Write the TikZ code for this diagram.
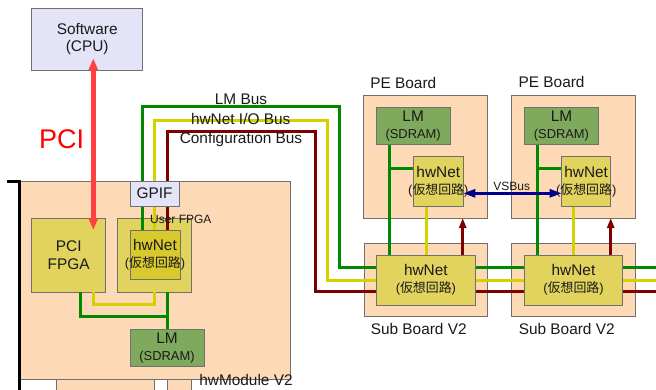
\documentclass[tikz,border=0pt]{standalone}
\usepackage{fontspec}
\setmainfont{Liberation Sans}
\newfontfamily\cjk{Noto Sans CJK JP}
\usetikzlibrary{arrows.meta,fit}

\definecolor{peach}{HTML}{FDD9B6}
\definecolor{lav}{HTML}{E4E4F8}
\definecolor{fpga}{HTML}{E1D35D}
\definecolor{hwin}{HTML}{D8C92E}
\definecolor{lmgreen}{HTML}{7FA95C}
\definecolor{busgreen}{HTML}{008800}
\definecolor{busyellow}{HTML}{D2D200}
\definecolor{busred}{HTML}{800000}
\definecolor{vsblue}{HTML}{000090}
\definecolor{pcired}{HTML}{FF4040}
\definecolor{edgegray}{HTML}{707070}
\definecolor{ink}{HTML}{1A1A1A}

\newcommand\mainsz{\fontsize{15.4}{17.5}\selectfont}
\newcommand\subsz{\fontsize{12.9}{17}\selectfont}
\newcommand\smallsz{\fontsize{12}{14}\selectfont}
\newcommand\pcisz{\fontsize{27}{30}\selectfont}
\newcommand\kasou{{\subsz({\cjk 仮想回路})}}
\newcommand\hwtxt{hwNet\\[-0.5pt]\kasou}
\newcommand\lmtxt{LM\\[-0.5pt]{\subsz(SDRAM)}}

\pgfdeclarelayer{boards}
\pgfdeclarelayer{wires}
\pgfsetlayers{boards,wires,main}

\begin{document}
\begin{tikzpicture}[x=1pt,y=-1pt,
  box/.style={draw=edgegray, line width=0.8pt, inner sep=0pt, outer sep=0pt},
  board/.style={box, fill=peach},
  cpubox/.style={box, fill=lav},
  fpgabox/.style={box, fill=fpga},
  hwbox/.style={box, fill=hwin},
  lmbox/.style={box, fill=lmgreen},
  txt/.style={align=center, font=\mainsz, text=ink, inner sep=0pt},
  smalltxt/.style={align=center, font=\smallsz, text=ink, inner sep=0pt},
  lmbus/.style={draw=busgreen, line width=3pt, line join=miter},
  iobus/.style={draw=busyellow, line width=3pt, line join=miter},
  cfgbus/.style={draw=busred, line width=3pt, line join=miter},
  cfgarrow/.style={draw=busred, line width=2.6pt, -{Triangle[width=7pt,length=10pt]}},
  vsarrow/.style={draw=vsblue, line width=2.6pt, {Triangle[width=8pt,length=12pt]}-{Triangle[width=8pt,length=12pt]}},
  pciarrow/.style={draw=pcired, line width=4.5pt, {Triangle[width=9pt,length=12pt]}-{Triangle[width=9pt,length=12pt]}}
]
\useasboundingbox (0,0) rectangle (656,389);
\begin{pgfonlayer}{boards}
\fill[white] (0,0) rectangle (656,389);
% boards and the two FPGAs lie under the wiring
\node[board, fit={(56.7,379)(154.3,396)}] (stubA) {};
\node[board, fit={(167.3,379)(191.7,396)}] (stubB) {};
\node[board, fit={(20,181)(290,379)}] (hwm) {};
\node[board, fit={(363.3,95)(487.3,218)}] (pe1) {};
\node[board, fit={(511.6,95)(635.6,218)}] (pe2) {};
\node[board, fit={(364,243.3)(487.3,316.7)}] (sub1) {};
\node[board, fit={(511.7,243.3)(635,316.7)}] (sub2) {};
\node[cpubox, fit={(31.7,8.3)(142.7,70)}] (sw) {};
\node[fpgabox, fit={(31.7,218.3)(105.7,292.3)}] (pcif) {};
\node[fpgabox, fit={(117.3,218.3)(191.3,292.3)}] (usrf) {};
% bracket on the left edge of the module
\coordinate (brA) at (7,181.7);
\coordinate (brB) at (19.3,181.7);
\coordinate (brC) at (19.3,396);
\draw[line width=3pt, line join=miter] (brA) -- (brB) -- (brC);
\end{pgfonlayer}

% ---------- boxes above the wiring ----------
\node[cpubox, fit={(130,181)(179.3,206)}] (gpif) {};
\node[hwbox, fit={(130,230.7)(180,279.3)}] (uhw) {};
\node[lmbox, fit={(130,329.3)(204,366)}] (mlm) {};
\node[lmbox, fit={(376,107.3)(450.3,144)}] (pe1lm) {};
\node[fpgabox, fit={(413.3,156.7)(463.3,206)}] (pe1hw) {};
\node[lmbox, fit={(524.3,107.3)(598.6,144)}] (pe2lm) {};
\node[fpgabox, fit={(561.7,156.7)(610.7,206)}] (pe2hw) {};
\node[fpgabox, fit={(376.7,255)(475,305)}] (sub1hw) {};
\node[fpgabox, fit={(524.3,255)(622.7,305)}] (sub2hw) {};

% ---------- bus routing ----------
\coordinate (xg) at (142.3,0);
\coordinate (xy) at (154.3,0);
\coordinate (xr) at (167.3,0);
\coordinate (yg) at (0,267.7);
\coordinate (yy) at (0,280);
\coordinate (yr) at (0,291.7);
\coordinate (gA) at (142.3,106.7);
\coordinate (gB) at (339.3,106.7);
\coordinate (gC) at (339.3,267.7);
\coordinate (yA) at (154.3,120);
\coordinate (yB) at (327.3,120);
\coordinate (yC) at (327.3,280);
\coordinate (rA) at (167.3,131.7);
\coordinate (rB) at (315,131.7);
\coordinate (rC) at (315,291.7);
\coordinate (gEnd) at (660,267.7);
\coordinate (yEnd) at (660,280);
\coordinate (rEnd) at (660,291.7);
\coordinate (xpy) at (93.3,0);
\coordinate (xpg) at (80.7,0);
\coordinate (ylo) at (0,304.3);
\coordinate (ylg) at (0,316.7);
\coordinate (xg1) at (389.3,0);
\coordinate (xy1) at (426,0);
\coordinate (xr1) at (462.7,0);
\coordinate (xg2) at (537,0);
\coordinate (xy2) at (573.5,0);
\coordinate (xr2) at (610.7,0);
\coordinate (ybr) at (0,168.3);

\begin{pgfonlayer}{wires}
% long buses from the GPIF across to the sub boards
\draw[lmbus]  (xg |- gpif.north) -- (gA) -- (gB) -- (gC) -- (sub1hw.west |- yg);
\draw[iobus]  (xy |- gpif.north) -- (yA) -- (yB) -- (yC) -- (sub1hw.west |- yy);
\draw[cfgbus] (xr |- gpif.north) -- (rA) -- (rB) -- (rC) -- (sub1hw.west |- yr);
\draw[lmbus]  (sub1hw.east |- yg) -- (sub2hw.west |- yg);
\draw[iobus]  (sub1hw.east |- yy) -- (sub2hw.west |- yy);
\draw[cfgbus] (sub1hw.east |- yr) -- (sub2hw.west |- yr);
\draw[lmbus]  (sub2hw.east |- yg) -- (gEnd);
\draw[iobus]  (sub2hw.east |- yy) -- (yEnd);
\draw[cfgbus] (sub2hw.east |- yr) -- (rEnd);
% GPIF to the user hwNet
\draw[lmbus]  (xg |- gpif.south) -- (xg |- uhw.north);
\draw[iobus]  (xy |- gpif.south) -- (xy |- uhw.north);
\draw[cfgbus] (xr |- gpif.south) -- (xr |- uhw.north);
% module-local links under the FPGAs
\draw[iobus] (xy |- usrf.south) -- (xy |- ylo) -- (xpy |- ylo) -- (xpy |- pcif.south);
\draw[lmbus] (xpg |- pcif.south) -- (xpg |- ylg) -- (xr |- ylg);
\draw[lmbus] (xr |- usrf.south) -- (xr |- mlm.north);
% PE board links
\draw[lmbus] (xg1 |- pe1lm.south) -- (xg1 |- sub1hw.north);
\draw[lmbus] (xg1 |- ybr) -- (pe1hw.west |- ybr);
\draw[iobus] (xy1 |- pe1hw.south) -- (xy1 |- sub1hw.north);
\draw[lmbus] (xg2 |- pe2lm.south) -- (xg2 |- sub2hw.north);
\draw[lmbus] (xg2 |- ybr) -- (pe2hw.west |- ybr);
\draw[iobus] (xy2 |- pe2hw.south) -- (xy2 |- sub2hw.north);
\end{pgfonlayer}

% configuration arrows up into the PE boards
\draw[cfgarrow] (xr1 |- sub1hw.north) -- (xr1 |- pe1.south);
\draw[cfgarrow] (xr2 |- sub2hw.north) -- (xr2 |- pe2.south);

% VSBus between the PE boards
\coordinate (yv) at (0,193.3);
\draw[vsarrow] (pe1hw.east |- yv) -- (pe2hw.west |- yv);
\node[smalltxt] (vsl) at (511.7,186.3) {VSBus};

% PCI link between CPU and PCI FPGA
\coordinate (pciTop) at (93.3,58.3);
\coordinate (pciBot) at (93.3,230);
\draw[pciarrow] (pciTop) -- (pciBot);
\node[font=\pcisz, text=red, inner sep=0pt] (pcil) at (61.7,139.2) {PCI};

% ---------- texts ----------
\node[txt] (swt) at (sw.center) {Software\\(CPU)};
\node[txt] (gpift) at (gpif.center) {GPIF};
\node[txt] (pcift) at (pcif.center) {PCI\\FPGA};
\node[smalltxt] (usrl) at (180.8,219.5) {User FPGA};
\node[txt] (uhwt) at (uhw.center) {\hwtxt};
\node[txt] (mlmt) at (mlm.center) {\lmtxt};
\node[txt] (hwml) at (246,379.5) {hwModule V2};

\node[txt] (pe1l) at (403.3,83.3) {PE Board};
\node[txt] (pe2l) at (551.6,82.3) {PE Board};
\node[txt] (pe1lmt) at (pe1lm.center) {\lmtxt};
\node[txt] (pe2lmt) at (pe2lm.center) {\lmtxt};
\node[txt] (pe1hwt) at (pe1hw.center) {\hwtxt};
\node[txt] (pe2hwt) at (pe2hw.center) {\hwtxt};

\node[txt] (sub1hwt) at (sub1hw.center) {\hwtxt};
\node[txt] (sub2hwt) at (sub2hw.center) {\hwtxt};
\node[txt] (sub1l) at (418.7,329.3) {Sub Board V2};
\node[txt] (sub2l) at (566.7,328.5) {Sub Board V2};

\node[txt] (lmbl) at (241,99.3) {LM Bus};
\node[txt] (iobl) at (240.7,119.3) {hwNet I/O Bus};
\node[txt] (cfgl) at (241,139.3) {Configuration Bus};
\end{tikzpicture}
\end{document}
